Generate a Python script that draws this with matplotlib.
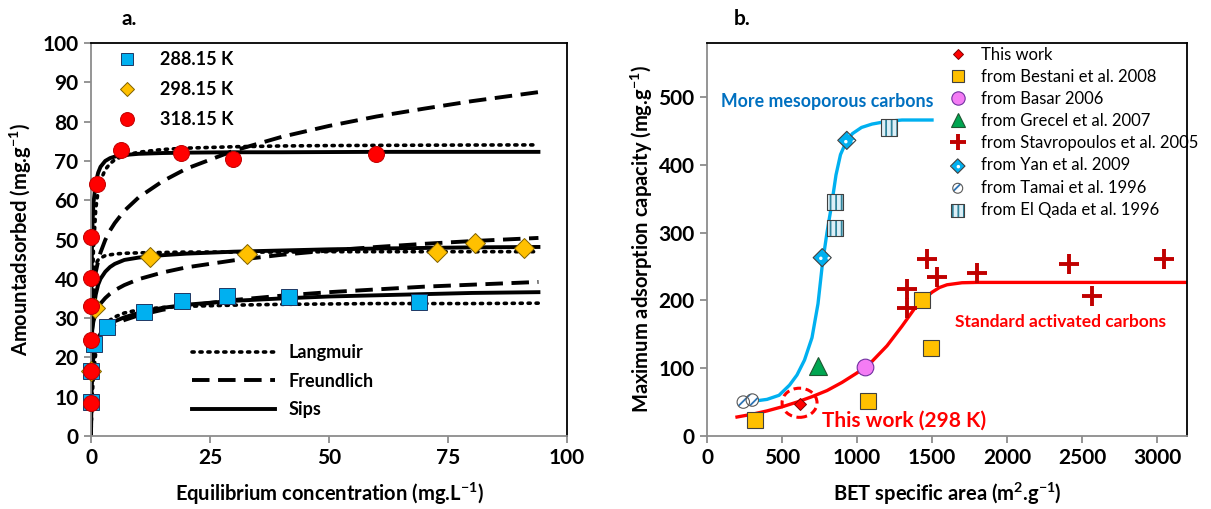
import matplotlib
matplotlib.use("Agg")
import matplotlib.pyplot as plt
from matplotlib.lines import Line2D
from matplotlib.patches import Ellipse
from matplotlib.legend_handler import HandlerTuple

plt.rcParams["font.family"] = ["Lato", "DejaVu Sans"]
plt.rcParams["mathtext.fontset"] = "custom"
plt.rcParams["mathtext.rm"] = "Lato"
plt.rcParams["mathtext.bf"] = "Lato:bold"
plt.rcParams["mathtext.default"] = "bf"
plt.rcParams["hatch.linewidth"] = 1.3

# ---------------- panel a: isotherms ----------------
t288_x = [0, 0, 0.6, 3.3, 11.1, 19.1, 28.6, 41.7, 69.0]
t288_y = [8.6, 16.5, 23.4, 27.7, 31.5, 34.3, 35.5, 35.3, 34.0]
t298_x = [0, 0.8, 12.4, 32.7, 72.6, 80.7, 91.0]
t298_y = [16.6, 32.6, 45.6, 46.2, 46.9, 49.2, 47.9]
t318_x = [0, 0, 0, 0, 0, 0, 1.2, 6.4, 18.9, 29.9, 59.9]
t318_y = [8.4, 16.6, 24.4, 33.2, 40.2, 50.7, 64.1, 72.9, 72.1, 70.5, 71.8]

# fitted curves
fit_x = [0, 0.1, 0.25, 0.5, 1, 1.5, 2, 3, 4, 5, 7, 10, 15, 20, 30, 40, 50, 60, 70, 80, 94]
lang_288 = [0, 4.8, 9.9, 15.4, 21.2, 24.2, 26.1, 28.3, 29.5, 30.3, 31.3, 32.1, 32.7, 33.0,
            33.3, 33.5, 33.6, 33.7, 33.7, 33.7, 33.8]
freu_288 = [0, 18.5, 20.4, 22.1, 23.8, 24.9, 25.7, 26.9, 27.7, 28.4, 29.5, 30.7, 32.1, 33.1,
            34.6, 35.7, 36.6, 37.3, 38.0, 38.5, 39.2]
sips_288 = [0, 12.0, 16.5, 20.0, 23.2, 24.8, 26.0, 27.5, 28.5, 29.2, 30.2, 31.3, 32.6, 33.4,
            34.4, 35.0, 35.5, 35.8, 36.1, 36.4, 36.6]
lang_298 = [0, 27.0, 36.3, 40.9, 43.8, 44.8, 45.3, 45.9, 46.1, 46.3, 46.5, 46.6, 46.7, 46.8,
            46.8, 46.8, 46.9, 46.9, 46.9, 46.9, 46.9]
freu_298 = [0, 24.6, 27.1, 29.1, 31.3, 32.7, 33.7, 35.1, 36.2, 37.1, 38.4, 39.9, 41.6, 42.9,
            44.7, 46.1, 47.2, 48.1, 48.9, 49.6, 50.4]
sips_298 = [0, 20.0, 27.0, 32.0, 36.0, 38.5, 40.0, 41.8, 43.0, 43.8, 44.8, 45.4, 46.0, 46.4,
            46.9, 47.2, 47.5, 47.7, 47.85, 48.0, 48.1]
lang_318 = [0, 19.3, 34.7, 47.3, 57.8, 62.4, 65.0, 67.8, 69.3, 70.3, 71.4, 72.2, 72.9, 73.25,
            73.6, 73.8, 73.9, 73.95, 74.0, 74.04, 74.07]
freu_318 = [0, 28.7, 33.3, 37.2, 41.7, 44.5, 46.7, 49.9, 52.3, 54.2, 57.3, 60.7, 64.8, 68.0,
            72.6, 76.1, 78.9, 81.3, 83.3, 85.2, 87.5]
sips_318 = [0, 40.0, 52.0, 59.0, 64.5, 67.0, 68.5, 70.0, 70.7, 71.1, 71.5, 71.8, 72.0, 72.1,
            72.2, 72.2, 72.25, 72.3, 72.3, 72.3, 72.3]

# ---------------- panel b: capacity vs BET area ----------------
thiswork_x, thiswork_y = [617], [47]
bestani_x, bestani_y = [320, 1075, 1436, 1491], [23, 52, 200, 130]
basar_x, basar_y = [1055], [102]
grecel_x, grecel_y = [740], [103]
stavro_x = [1335, 1335, 1466, 1531, 1798, 2413, 2569, 3048]
stavro_y = [189, 217, 261, 235, 240, 254, 207, 261]
yan_x, yan_y = [768, 932], [263, 436]
tamai_x, tamai_y = [242, 302], [50, 53]
elqada_x, elqada_y = [851, 856, 1214], [345, 307, 455]

meso_x = [230, 300, 400, 480, 550, 600, 650, 700, 740, 770, 800, 830, 860, 890, 930, 970,
          1030, 1100, 1200, 1300, 1500]
meso_y = [50, 51, 54, 60, 75, 90, 112, 145, 195, 255, 300, 340, 385, 415, 435, 446,
          455, 460, 464, 466, 466]
std_x = [200, 300, 400, 500, 600, 700, 800, 900, 1000, 1100, 1200, 1300, 1400, 1500, 1550,
         1600, 1700, 1800, 2000, 2500, 3200]
std_y = [28, 32, 37, 43, 50, 58, 67, 79, 93, 110, 133, 162, 193, 212, 219, 223, 226,
         226.5, 226.5, 226.5, 226.5]

CYAN, YELLOW, RED = "#00B0F0", "#FFC000", "#FF0000"
GRAY = "#8C8C8C"


def style_axes(ax):
    for s in ("left", "bottom"):
        ax.spines[s].set_color(GRAY)
        ax.spines[s].set_linewidth(1.3)
    for s in ("top", "right"):
        ax.spines[s].set_color("black")
        ax.spines[s].set_linewidth(1.3)
    ax.tick_params(direction="out", length=5, width=1.3, color=GRAY,
                   labelsize=15, pad=4)
    for lab in ax.get_xticklabels() + ax.get_yticklabels():
        lab.set_fontweight("bold")


fig = plt.figure(figsize=(12.11, 5.09), dpi=100)
ax = fig.add_axes([91/1211, 73/509, 476/1211, 393/509])
bx = fig.add_axes([707/1211, 73/509, 480/1211, 393.3/509])

# ---- panel a ----
dot_ls = (0, (0.6, 1.6))
dash_ls = (0, (4.5, 2.2))
for ys in (lang_288, lang_298, lang_318):
    ax.plot(fit_x, ys, color="black", lw=2.6, ls=dot_ls, dash_capstyle="round", zorder=2)
for ys in (freu_288, freu_298, freu_318):
    ax.plot(fit_x, ys, color="black", lw=2.8, ls=dash_ls, zorder=2)
for ys in (sips_288, sips_298, sips_318):
    ax.plot(fit_x, ys, color="black", lw=2.8, ls="-", zorder=2)

ax.plot(t288_x, t288_y, "s", ms=11, mfc=CYAN, mec="#1F3864", mew=0.7, zorder=3, clip_on=False)
ax.plot(t298_x, t298_y, "D", ms=10.5, mfc=YELLOW, mec="#7F6000", mew=0.7, zorder=3, clip_on=False)
ax.plot(t318_x, t318_y, "o", ms=11.5, mfc=RED, mec="#C00000", mew=0.7, zorder=4, clip_on=False)

ax.set_xlim(0, 100)
ax.set_ylim(0, 100)
ax.set_xticks([0, 25, 50, 75, 100])
ax.set_yticks(range(0, 101, 10))
style_axes(ax)
ax.set_xlabel("Equilibrium concentration (mg.L$^{-1}$)", fontsize=14.5, fontweight="bold")
ax.set_ylabel("Amountadsorbed (mg.g$^{-1}$)", fontsize=14.5, fontweight="bold")
ax.xaxis.set_label_coords(0.5, -0.115)
ax.yaxis.set_label_coords(-0.12, 0.5)
ax.text(0.065, 1.06, "a.", transform=ax.transAxes, fontsize=15, fontweight="bold",
        va="center")

mk_handles = [
    Line2D([], [], marker="s", ls="", ms=8.5, mfc=CYAN, mec="#1F3864", mew=0.7),
    Line2D([], [], marker="D", ls="", ms=7.5, mfc=YELLOW, mec="#7F6000", mew=0.7),
    Line2D([], [], marker="o", ls="", ms=10, mfc=RED, mec="#C00000", mew=0.7),
]
leg1 = ax.legend(mk_handles, ["288.15 K", "298.15 K", "318.15 K"], loc="upper left",
                 bbox_to_anchor=(0.057, 0.98), frameon=False, handlelength=1.0,
                 handletextpad=1.3, labelspacing=0.72, borderpad=0, borderaxespad=0,
                 prop={"size": 13, "weight": "bold"})
ax.add_artist(leg1)
ln_handles = [
    Line2D([], [], color="black", lw=2.6, ls=dot_ls, dash_capstyle="round"),
    Line2D([], [], color="black", lw=2.8, ls=dash_ls),
    Line2D([], [], color="black", lw=2.8),
]
ax.legend(ln_handles, ["Langmuir", "Freundlich", "Sips"], loc="upper left",
          bbox_to_anchor=(0.213, 0.233), frameon=False, handlelength=4.6,
          handletextpad=0.75, labelspacing=0.62, borderpad=0, borderaxespad=0,
          prop={"size": 13, "weight": "bold"})

# ---- panel b ----
bx.plot(meso_x, meso_y, color=CYAN, lw=2.4, zorder=2)
bx.plot(std_x, std_y, color=RED, lw=2.4, zorder=2)

h_this, = bx.plot(thiswork_x, thiswork_y, "D", ms=6.5, mfc=RED, mec="#800000", mew=0.7, zorder=4)
h_best, = bx.plot(bestani_x, bestani_y, "s", ms=11.5, mfc=YELLOW, mec="#404040", mew=0.8, zorder=3)
h_basar, = bx.plot(basar_x, basar_y, "o", ms=12, mfc="#F47CF4", mec="#7030A0", mew=0.8, zorder=3)
h_grec, = bx.plot(grecel_x, grecel_y, "^", ms=13, mfc="#00A651", mec="#1E5631", mew=0.8, zorder=3)
h_stav, = bx.plot(stavro_x, stavro_y, "+", ms=15, mec="#C00000", mew=2.8, zorder=3)
yan_a = bx.scatter(yan_x, yan_y, s=85, marker="D", facecolor=CYAN, edgecolor="white",
                   hatch="..", linewidth=0, zorder=3)
yan_b = bx.scatter(yan_x, yan_y, s=85, marker="D", facecolor="none", edgecolor="#404040",
                   linewidth=0.8, zorder=3)
tam_a = bx.scatter(tamai_x, tamai_y, s=80, marker="o", facecolor="white", edgecolor="#2E75B6",
                   hatch="///", linewidth=0, zorder=3)
tam_b = bx.scatter(tamai_x, tamai_y, s=80, marker="o", facecolor="none", edgecolor="#595959",
                   linewidth=0.8, zorder=3)
elq_a = bx.scatter(elqada_x, elqada_y, s=135, marker="s", facecolor="#DDEFF7", edgecolor="#31849B",
                   hatch="|||", linewidth=0, zorder=3)
elq_b = bx.scatter(elqada_x, elqada_y, s=135, marker="s", facecolor="none", edgecolor="#404040",
                   linewidth=0.8, zorder=3)

bx.add_patch(Ellipse((thiswork_x[0], thiswork_y[0] + 2), 233, 43, fill=False, ec=RED,
                     lw=2.2, ls=(0, (2.5, 1.5)), zorder=4))

bx.set_xlim(0, 3200)
bx.set_ylim(0, 580)
bx.set_xticks(range(0, 3001, 500))
bx.set_yticks(range(0, 501, 100))
style_axes(bx)
bx.set_xlabel("BET specific area (m$^{2}$.g$^{-1}$)", fontsize=14.5, fontweight="bold")
bx.set_ylabel("Maximum adsorption capacity (mg.g$^{-1}$)", fontsize=14.5, fontweight="bold")
bx.xaxis.set_label_coords(0.5, -0.115)
bx.yaxis.set_label_coords(-0.108, 0.5)
bx.text(0.055, 1.06, "b.", transform=bx.transAxes, fontsize=15, fontweight="bold",
        va="center")

bx.text(93, 494, "More mesoporous carbons", color="#0070C0", fontsize=12.8, fontweight="bold",
        va="center")
bx.text(1653, 168, "Standard activated carbons", color=RED, fontsize=12.5, fontweight="bold",
        va="center")
bx.text(770, 22, "This work (298 K)", color=RED, fontsize=15, fontweight="bold", va="center")

handles = [h_this, h_best, h_basar, h_grec, h_stav, (yan_a, yan_b), (tam_a, tam_b),
           (elq_a, elq_b)]
names = ["This work", "from Bestani et al. 2008", "from Basar 2006", "from Grecel et al. 2007",
         "from Stavropoulos et al. 2005", "from Yan et al. 2009", "from Tamai et al. 1996",
         "from El Qada et al. 1996"]
bx.legend(handles, names, loc="upper left", bbox_to_anchor=(0.505, 0.99), frameon=False,
          handlelength=1.0, handletextpad=0.9, labelspacing=0.37, borderpad=0, borderaxespad=0,
          markerscale=0.8, prop={"size": 12},
          handler_map={tuple: HandlerTuple(ndivide=1, pad=0)})

fig.savefig("out.png", dpi=100)
